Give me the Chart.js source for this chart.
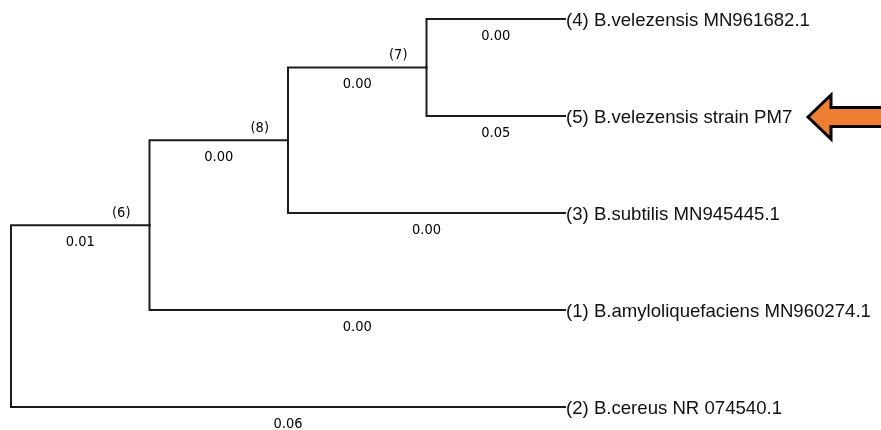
<!DOCTYPE html>
<html>
<head>
<meta charset="utf-8">
<title>Phylogenetic tree</title>
<script src="https://cdn.jsdelivr.net/npm/chart.js@4/dist/chart.umd.min.js"></script>
<style>
  html, body { margin: 0; padding: 0; background: #ffffff; }
  #wrap { width: 881px; height: 430px; position: relative; }
</style>
</head>
<body>
<div id="wrap"><canvas id="tree"></canvas></div>
<script>
// Leaf taxa, top to bottom
const taxa = [
  '(4) B.velezensis MN961682.1',
  '(5) B.velezensis strain PM7',
  '(3) B.subtilis MN945445.1',
  '(1) B.amyloliquefaciens MN960274.1',
  '(2) B.cereus NR 074540.1'
];
// Internal node labels: nodes 5, 6, 7 (node 8 is the root)
const cladeLabels = ['(7)', '(8)', '(6)'];
// Parent index of every node (0-4 leaves, 5-7 clades, 8 root)
const parents = [5, 5, 6, 7, 8, 6, 7, 8, null];
// Branch length shown on the branch leading to each non-root node
const branchLengths = ['0.00', '0.05', '0.00', '0.00', '0.06', '0.00', '0.00', '0.01'];
// Highlighted taxon (arrow marker)
const highlighted = 1;

// ---- tree layout (cladogram: leaves aligned) ----
const nNodes = parents.length;
const rootIdx = parents.indexOf(null);
const children = Array.from({ length: nNodes }, () => []);
parents.forEach((p, i) => { if (p !== null) children[p].push(i); });

const depth = new Array(nNodes).fill(0);
(function setDepth(n, d) { depth[n] = d; children[n].forEach(c => setDepth(c, d + 1)); })(rootIdx, 0);
const leafDepth = Math.max(...depth);
for (let i = 0; i < taxa.length; i++) depth[i] = leafDepth;

const row = new Array(nNodes).fill(0);
(function setRow(n) {
  if (children[n].length === 0) { row[n] = n; return row[n]; }
  const rs = children[n].map(setRow);
  row[n] = rs.reduce((a, b) => a + b, 0) / rs.length;
  return row[n];
})(rootIdx);

const datasets = [];
for (let i = 0; i < nNodes; i++) {
  const p = parents[i];
  if (p === null) continue;
  datasets.push({
    data: [
      { x: depth[p], y: row[p] },
      { x: depth[p], y: row[i] },
      { x: depth[i], y: row[i] }
    ],
    showLine: true,
    borderColor: '#1c1c1c',
    borderWidth: 2,
    borderJoinStyle: 'miter',
    borderCapStyle: 'square',
    pointRadius: 0,
    tension: 0,
    clip: false
  });
}

const labelPlugin = {
  id: 'treeLabels',
  afterDatasetsDraw(chart) {
    const ctx = chart.ctx;
    const xs = chart.scales.x, ys = chart.scales.y;
    ctx.save();

    // taxon names at leaf tips
    ctx.fillStyle = '#111111';
    ctx.font = '18.6px "Liberation Sans", Arial, sans-serif';
    ctx.textAlign = 'left';
    ctx.textBaseline = 'middle';
    taxa.forEach((t, i) => {
      ctx.fillText(t, xs.getPixelForValue(depth[i]) + 1, ys.getPixelForValue(row[i]) + 2);
    });

    // branch lengths under each horizontal branch
    ctx.font = '14.5px "DejaVu Sans Condensed", "DejaVu Sans", sans-serif';
    ctx.textAlign = 'center';
    ctx.fillStyle = '#000000';
    let b = 0;
    for (let i = 0; i < nNodes; i++) {
      const p = parents[i];
      if (p === null) continue;
      const xm = (xs.getPixelForValue(depth[p]) + xs.getPixelForValue(depth[i])) / 2;
      ctx.fillText(branchLengths[b++], xm, ys.getPixelForValue(row[i]) + 17);
    }

    // clade numbers just left of each internal node
    ctx.textAlign = 'right';
    cladeLabels.forEach((c, k) => {
      const n = taxa.length + k;
      ctx.fillText(c, xs.getPixelForValue(depth[n]) - 19, ys.getPixelForValue(row[n]) - 12);
    });

    // arrow pointing at the highlighted taxon
    const yc = ys.getPixelForValue(row[highlighted]) + 1;
    const tip = 808, neck = 831, right = chart.width + 4;
    ctx.beginPath();
    ctx.moveTo(tip, yc);
    ctx.lineTo(neck, yc - 22);
    ctx.lineTo(neck, yc - 9.5);
    ctx.lineTo(right, yc - 9.5);
    ctx.lineTo(right, yc + 9.5);
    ctx.lineTo(neck, yc + 9.5);
    ctx.lineTo(neck, yc + 22);
    ctx.closePath();
    ctx.fillStyle = '#ED7D31';
    ctx.fill();
    ctx.lineWidth = 3;
    ctx.strokeStyle = '#000000';
    ctx.lineJoin = 'miter';
    ctx.stroke();

    ctx.restore();
  }
};

new Chart(document.getElementById('tree'), {
  type: 'scatter',
  data: { datasets },
  options: {
    responsive: true,
    maintainAspectRatio: false,
    animation: false,
    layout: { padding: { left: 11, right: 316, top: 19, bottom: 23 } },
    plugins: { legend: { display: false }, tooltip: { enabled: false } },
    scales: {
      x: { type: 'linear', min: 0, max: leafDepth, display: false },
      y: { type: 'linear', min: 0, max: taxa.length - 1, reverse: true, display: false }
    }
  },
  plugins: [labelPlugin]
});
</script>
</body>
</html>
